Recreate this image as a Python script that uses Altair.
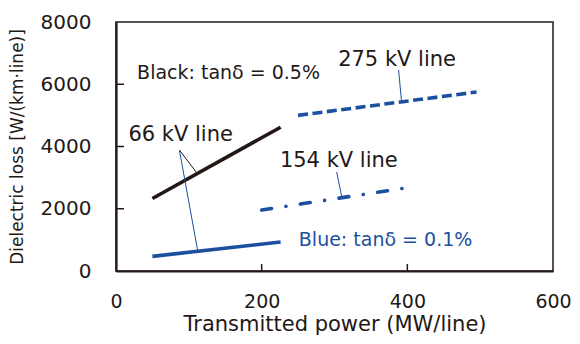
import altair as alt
import pandas as pd

# ---- data ----
x_ticks = [0, 200, 400, 600]
y_ticks = [0, 2000, 4000, 6000, 8000]
x_inner_ticks = [200, 400]
y_inner_ticks = [2000, 4000, 6000]

black66_x = [50, 226]
black66_y = [2330, 4620]
blue66_x = [50, 226]
blue66_y = [470, 930]
l154_x = [200, 398]
l154_y = [1960, 2670]
l275_x = [250, 495]
l275_y = [5000, 5750]

leader_x = [87, 87, 303, 388]
leader_y = [3888, 3888, 3180, 6458]
leader_x2 = [110, 112, 310, 392]
leader_y2 = [3180, 675, 2378, 5462]
leader_kind = ["black", "blue", "blue", "blue"]

label_text = ["Black: tanδ = 0.5%", "275 kV line", "66 kV line", "154 kV line", "Blue: tanδ = 0.1%"]
label_x = [29, 305, 17, 225, 251]
label_y = [6361, 6779, 4370, 3534, 996]
label_size = [19, 21, 21, 21, 19]
label_kind = ["black", "black", "black", "black", "blue"]

BLACK = "#231815"
BLUE = "#1d4fa0"
FONT = "DejaVu Sans"
col = {"black": BLACK, "blue": BLUE}

xs = alt.Scale(domain=[0, 600], nice=False)
ys = alt.Scale(domain=[0, 8000], nice=False)
x_axis = alt.Axis(values=x_ticks, format="d", title="Transmitted power (MW/line)", ticks=False, tickSize=0,
                  labelFlush=False, labelPadding=21, titlePadding=2, titleFontSize=21, labelFontSize=19)
y_axis = alt.Axis(values=y_ticks, format="d", title="Dielectric loss [W/(km·line)]", ticks=False, tickSize=0,
                  labelFlush=False, labelPadding=25, titlePadding=14, titleFontSize=17, labelFontSize=20)


def X(f="x"):
    return alt.X(f"{f}:Q", scale=xs, axis=x_axis)


def Y(f="y"):
    return alt.Y(f"{f}:Q", scale=ys, axis=y_axis)


def line_layer(xv, yv, color, dash=None, cap="butt"):
    df = pd.DataFrame({"x": xv, "y": yv})
    kw = dict(color=color, strokeWidth=3.6, strokeCap=cap)
    if dash is not None:
        kw["strokeDash"] = dash
    return alt.Chart(df).mark_line(**kw).encode(x=X(), y=Y())


black66 = line_layer(black66_x, black66_y, BLACK)
blue66 = line_layer(blue66_x, blue66_y, BLUE)
l154 = line_layer(l154_x, l154_y, BLUE, dash=[10, 14.5, 0.1, 14.5], cap="round")
l275 = line_layer(l275_x, l275_y, BLUE, dash=[10, 4.5])

leaders_df = pd.DataFrame({
    "x": leader_x, "y": leader_y, "x2": leader_x2, "y2": leader_y2,
    "c": [col[k] for k in leader_kind],
})
leaders = alt.Chart(leaders_df).mark_rule(strokeWidth=1).encode(
    x=X(), y=Y(), x2="x2:Q", y2="y2:Q", color=alt.Color("c:N", scale=None)
)

labels_df = pd.DataFrame({
    "t": label_text, "x": label_x, "y": label_y, "s": label_size,
    "c": [col[k] for k in label_kind],
})
labels = alt.Chart(labels_df).mark_text(align="left", baseline="middle", font=FONT).encode(
    x=X(), y=Y(), text="t:N", size=alt.Size("s:Q", scale=None), color=alt.Color("c:N", scale=None)
)

ytick_df = pd.DataFrame({"y": y_inner_ticks})
yticks = alt.Chart(ytick_df).mark_rule(color=BLACK, strokeWidth=1.5).encode(
    y=Y(), x=alt.value(0), x2=alt.value(8)
)
xtick_df = pd.DataFrame({"x": x_inner_ticks})
xticks = alt.Chart(xtick_df).mark_rule(color=BLACK, strokeWidth=1.5).encode(
    x=X(), y=alt.value(249), y2=alt.value(242)
)

chart = alt.layer(black66, blue66, l154, l275, leaders, labels, yticks, xticks).properties(
    width=437, height=249,
    autosize=alt.AutoSizeParams(type="none"),
    padding={"left": 108, "top": 14, "right": 19, "bottom": 65},
    background="white",
).configure_view(
    stroke=BLACK, strokeWidth=1.5
).configure_axis(
    grid=False, domainColor=BLACK, domainWidth=2.2,
    labelFont=FONT, titleFont=FONT, labelColor=BLACK, titleColor=BLACK,
    titleFontWeight="normal",
)

chart.save("out.html", embed_options={"renderer": "svg", "actions": False})
